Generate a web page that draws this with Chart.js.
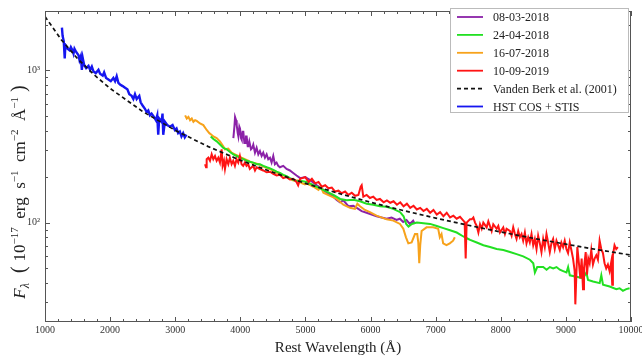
<!DOCTYPE html>
<html>
<head>
<meta charset="utf-8">
<script src="https://cdn.jsdelivr.net/npm/chart.js@4.4.0/dist/chart.umd.min.js"></script>
<style>
  html, body { margin: 0; padding: 0; background: #fff; }
  #wrap { width: 642px; height: 360px; }
</style>
</head>
<body>
<div id="wrap"><canvas id="specChart" width="642" height="360"></canvas></div>
<script>
// rest wavelength (Å) and flux (1e-17 erg/s/cm2/Å) for each epoch
var hstWave = [1260,1270,1288,1303,1313,1346,1377,1397,1423,1438,1453,1479,1515,1530,1550,1566,1581,1601,1632,1668,1693,1719,1744,1780,1821,1846,1887,1908,1938,1974,2010,2050,2076,2101,2127,2152,2193,2229,2265,2295,2331,2357,2382,2408,2448,2469,2499,2535,2561,2586,2612,2637,2673,2703,2724,2739,2754,2790,2805,2816,2841,2877,2918,2959,2994,3020,3045,3071,3096,3122,3147,3173];
var hstFlux = [1914,1692,1560,1200,1470,1390,1356,1425,1356,1291,1390,1323,1260,1169,1241,1009,1199,1087,1035,1071,1009,1060,985,961,1009,952,924,971,893,872,850,893,850,915,829,809,789,770,752,698,681,649,698,649,681,617,588,560,533,546,507,520,495,471,507,378,483,460,520,378,460,438,427,438,406,416,387,396,368,387,363,378];

var wave0803 = [3893,3909,3919,3934,3944,3960,3970,3985,3995,4011,4021,4036,4046,4062,4072,4087,4097,4113,4123,4138,4148,4164,4184,4199,4225,4250,4276,4301,4327,4352,4378,4404,4429,4455,4480,4506,4531,4557,4582,4608,4659,4710,4761,4812,4863,4919,4996,5072,5174,5276,5378,5429,5480,5531,5582,5659,5735,5812,5863,5939,6016,6092,6169,6245,6322,6399,6450,6501,6552,6603,6654,6679];
var flux0803 = [359,427,494,471,437,387,368,427,416,359,351,396,396,334,334,368,368,318,318,342,342,303,310,325,288,310,281,295,274,288,267,281,261,267,248,274,242,248,236,231,236,225,220,212,204,196,199,190,176,164,152,148,141,136,140,128,129,123,119,116,113,110,108,106,108,104,106,101,104,98,103,98];

var wave2404 = [3545,3586,3637,3688,3739,3790,3841,3892,3943,3994,4045,4096,4147,4198,4251,4302,4353,4405,4456,4507,4558,4609,4660,4711,4762,4813,4864,4920,5022,5124,5226,5328,5430,5532,5634,5736,5838,5940,6042,6144,6246,6348,6455,6507,6547,6583,6634,6711,6813,6915,7017,7119,7221,7323,7425,7502,7529,7631,7733,7835,7937,8039,8141,8243,8345,8447,8499,8524,8560,8652,8703,8754,8805,8856,8907,8958,9009,9034,9060,9162,9264,9315,9340,9417,9519,9544,9570,9672,9774,9825,9876,9927,9978];
var flux2404 = [368,354,342,326,310,303,291,281,274,267,261,255,251,248,242,242,236,231,227,222,216,212,206,202,196,191,187,188,185,176,168,160,152,143,140,141,138,133,131,128,127,123,117,110,98,94,98,100,99,98,95,92,89,86,81,78,77,74,71,69,67,66,64,62,60,57,54,47,51,51,49,51,50,51,49,48,47,51,45,44,43,47,42,41,40,45,39,38,36.5,37,35.6,36.5,37];

var wave1607 = [3152,3177,3203,3228,3254,3279,3305,3330,3381,3432,3483,3524,3560,3585,3636,3687,3738,3764,3815,3866,3917,3968,4019,4070,4121,4172,4227,4278,4329,4380,4457,4533,4610,4686,4737,4814,4890,4941,4992,5021,5123,5200,5235,5276,5378,5480,5582,5684,5761,5797,5837,5914,5990,6092,6143,6248,6350,6452,6503,6544,6580,6631,6682,6717,6733,6748,6763,6784,6860,6962,7039,7064,7090,7115,7166,7217,7268,7294];
var flux1607 = [507,483,495,471,483,460,471,466,448,437,406,387,377,368,359,342,318,303,306,288,281,274,267,261,255,248,246,242,236,231,225,214,209,202,196,189,189,182,178,181,172,164,172,157,150,143,131,125,123,133,128,121,117,111,109,105,103,98,91,80,73,74,84,84,74,54,71,88,93,93,91,80,84,73,71,73,76,80];

var wave1009 = [3458,3473,3483,3509,3534,3560,3585,3611,3636,3662,3687,3713,3728,3749,3764,3789,3815,3840,3866,3891,3917,3942,3968,3993,4019,4044,4070,4095,4121,4146,4199,4225,4250,4301,4352,4404,4455,4506,4557,4608,4659,4710,4761,4812,4863,4888,
  4920,4997,5048,5099,5150,5201,5252,5303,5354,5405,5456,5507,5558,5609,5660,5711,5762,5813,5849,5864,5889,5940,5991,6042,6093,6144,6201,6251,6303,6353,6405,6456,6507,6558,6609,6660,6711,6762,6813,6864,6915,6966,7017,7068,7119,7170,7221,7272,7323,7374,7425,7445,7461,7476,7527,
  7554,7579,7605,7630,7656,7681,7707,7732,7783,7809,7834,7860,7885,7936,7962,7987,8038,8064,8089,8140,8166,8191,8217,8242,8268,8293,8319,8344,8370,8395,8421,8446,8472,8498,8523,8549,8574,8600,8625,8651,8676,8702,8727,8753,8778,8804,8829,8855,8880,8906,8931,8957,8982,9008,9033,9059,9084,9110,9135,9145,9161,9176,9202,9222,9242,9263,9278,9304,9324,9344,9365,9390,9416,9441,9467,9492,9518,9543,9569,9594,9619,9645,9671,9696,9712,9722,9747,9773,9798];
var flux1009 = [242,231,261,267,255,281,261,274,255,267,248,303,236,255,225,261,242,267,242,255,236,261,248,274,242,236,248,236,242,225,236,220,231,225,220,214,216,209,204,206,196,199,192,194,185,176,
  194,199,185,194,181,185,172,176,168,170,160,162,156,160,152,157,150,152,172,176,148,152,145,148,141,143,136,140,135,138,131,136,128,133,125,129,122,125,119,123,116,121,113,117,110,116,108,111,106,109,103,101,58,100,105,
  105,108,100,95,86,97.5,91,100,93,102,95,88,97.5,91,95,86,93,84,91,88,82,93,84,78,88,80,84,76,86,73,80,74,84,71,78,67,82,73,64,78,69,84,74,64,73,78,67,76,71,66,74,69,76,67,63,74,66,58,48,29,45.5,69,53,43,58,36.5,50,64,45.5,58,54,66,53,58,61,57,76,67,63,54,50,53,48,55,39,61,71,67,69];

// composite continuum (Vanden Berk et al. 2001)
var vbWave = [1000,1250,1500,1750,2000,2500,3000,3500,4000,4500,5000,5500,6000,6500,7000,7500,8000,8500,9000,9500,10000];
var vbFlux = [2260,1593,1196,940,762,537,404,317,257,214,181,156,136,120,107,96,86.7,78.8,72.1,66.2,61.1];

// axis ticks
var xTicks = [1000,2000,3000,4000,5000,6000,7000,8000,9000,10000];
var yMajor = [100, 1000];
var yMinor = [30,40,50,60,70,80,90,200,300,400,500,600,700,800,900,2000];

var SERIF = '"Liberation Serif", "DejaVu Serif", serif';

function pairs(w, f) {
  return w.map(function(x, i) { return { x: x, y: f[i] }; });
}

function spec(label, w, f, color, order, width) {
  return {
    label: label, data: pairs(w, f), borderColor: color, backgroundColor: color,
    borderWidth: width || 2, pointRadius: 0, fill: false, order: order
  };
}

// draws a row of text pieces (sub/superscripts) centred on cx
function drawParts(ctx, parts, cx, cy) {
  var total = 0;
  parts.forEach(function(p) {
    ctx.font = (p.i ? 'italic ' : '') + p.s + 'px ' + SERIF;
    p.w = ctx.measureText(p.t).width;
    total += p.w;
  });
  var x = cx - total / 2;
  parts.forEach(function(p) {
    ctx.font = (p.i ? 'italic ' : '') + p.s + 'px ' + SERIF;
    ctx.fillText(p.t, x, cy + (p.dy || 0));
    x += p.w;
  });
}

var decor = {
  id: 'decor',
  afterDraw: function(chart) {
    var ctx = chart.ctx, a = chart.chartArea;
    var xs = chart.scales.x, ys = chart.scales.y;
    ctx.save();

    // frame with inward ticks on all four sides
    ctx.strokeStyle = '#555';
    ctx.lineWidth = 1;
    ctx.strokeRect(a.left + 0.5, a.top + 0.5, a.right - a.left - 1, a.bottom - a.top - 1);
    ctx.beginPath();
    for (var w = 1000; w <= 10000; w += 200) {
      var px = Math.round(xs.getPixelForValue(w)) + 0.5;
      var len = (w % 1000 === 0) ? 5 : 3;
      ctx.moveTo(px, a.bottom); ctx.lineTo(px, a.bottom - len);
      ctx.moveTo(px, a.top); ctx.lineTo(px, a.top + len);
    }
    yMajor.concat(yMinor).forEach(function(v) {
      var py = Math.round(ys.getPixelForValue(v)) + 0.5;
      var len = yMajor.indexOf(v) >= 0 ? 5 : 3;
      ctx.moveTo(a.left, py); ctx.lineTo(a.left + len, py);
      ctx.moveTo(a.right, py); ctx.lineTo(a.right - len, py);
    });
    ctx.stroke();

    // axis titles
    ctx.fillStyle = '#222';
    ctx.textBaseline = 'alphabetic';
    drawParts(ctx, [{ t: 'Rest Wavelength (Å)', s: 15 }], (a.left + a.right) / 2, 352);

    ctx.save();
    ctx.translate(25, 192);
    ctx.rotate(-Math.PI / 2);
    drawParts(ctx, [
      { t: 'F', s: 17, i: true }, { t: 'λ', s: 12, i: true, dy: 4 },
      { t: '  ( ', s: 20 }, { t: '10', s: 17 }, { t: '−17', s: 11, dy: -7 },
      { t: '  erg  s', s: 17 }, { t: '−1', s: 11, dy: -7 },
      { t: '  cm', s: 17 }, { t: '−2', s: 11, dy: -7 },
      { t: '  Å', s: 17 }, { t: '−1', s: 11, dy: -7 },
      { t: ' )', s: 20 }
    ], 0, 0);
    ctx.restore();

    // legend box in the upper right corner
    var lx = 450, ly = 8, lw = 178, lh = 104;
    ctx.fillStyle = '#fff';
    ctx.fillRect(lx, ly, lw, lh);
    ctx.strokeStyle = '#bbb';
    ctx.strokeRect(lx + 0.5, ly + 0.5, lw, lh);
    ctx.font = '12px ' + SERIF;
    ctx.textBaseline = 'middle';
    chart.data.datasets.forEach(function(ds, i) {
      var yy = ly + 9 + i * 17.9;
      ctx.beginPath();
      ctx.setLineDash(ds.borderDash || []);
      ctx.strokeStyle = ds.borderColor;
      ctx.lineWidth = 1.8;
      ctx.moveTo(lx + 7, yy); ctx.lineTo(lx + 33, yy);
      ctx.stroke();
      ctx.setLineDash([]);
      ctx.fillStyle = '#222';
      ctx.fillText(ds.label, lx + 43, yy + 1);
    });
    ctx.restore();
  }
};

var vb = spec('Vanden Berk et al. (2001)', vbWave, vbFlux, '#111', 0, 1.7);
vb.borderDash = [4, 3];

new Chart(document.getElementById('specChart').getContext('2d'), {
  type: 'line',
  data: {
    datasets: [
      spec('08-03-2018', wave0803, flux0803, '#8b22a8', 4),
      spec('24-04-2018', wave2404, flux2404, '#22e022', 2),
      spec('16-07-2018', wave1607, flux1607, '#f7a21b', 3),
      spec('10-09-2019', wave1009, flux1009, '#ff1414', 1),
      vb,
      spec('HST COS + STIS', hstWave, hstFlux, '#1616f0', 5, 2.4)
    ]
  },
  options: {
    responsive: false,
    animation: false,
    devicePixelRatio: 1,
    layout: { padding: { top: 3, right: 11, left: 0, bottom: 0 } },
    plugins: { legend: { display: false }, tooltip: { enabled: false } },
    elements: { line: { tension: 0 } },
    scales: {
      x: {
        type: 'linear', min: 1000, max: 10000,
        grid: { display: false, drawTicks: false },
        border: { display: false },
        afterBuildTicks: function(s) { s.ticks = xTicks.map(function(v) { return { value: v }; }); },
        afterFit: function(s) { s.height = 38; s.paddingLeft = 0; s.paddingRight = 0; },
        ticks: {
          autoSkip: false, maxRotation: 0, padding: 2, color: '#333',
          font: { family: SERIF, size: 10 },
          callback: function(v) { return String(v); }
        }
      },
      y: {
        type: 'logarithmic', min: 22.2, max: 2460,
        grid: { display: false, drawTicks: false },
        border: { display: false },
        afterBuildTicks: function(s) { s.ticks = yMajor.map(function(v) { return { value: v }; }); },
        afterFit: function(s) { s.width = 45; },
        ticks: {
          autoSkip: false, padding: 5, color: '#333',
          font: { family: SERIF, size: 10 },
          callback: function(v) { return v === 100 ? '10²' : (v === 1000 ? '10³' : ''); }
        }
      }
    }
  },
  plugins: [decor]
});
</script>
</body>
</html>
